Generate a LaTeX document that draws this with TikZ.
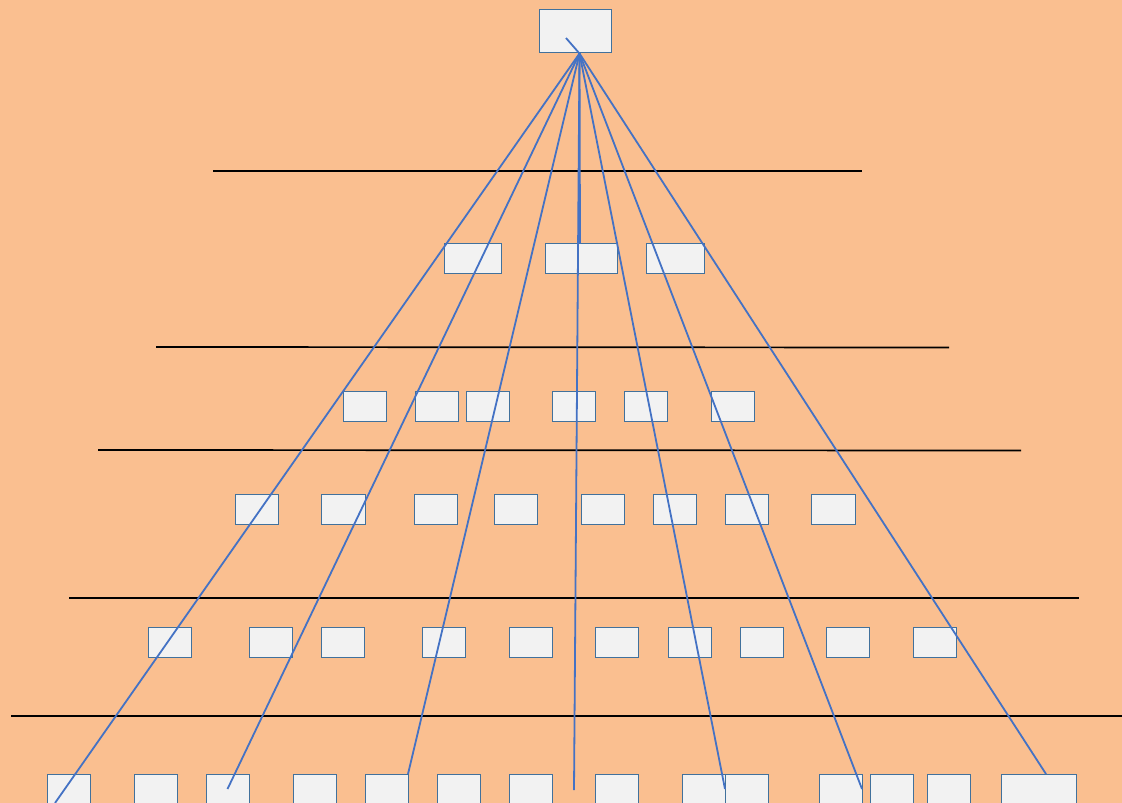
\documentclass[tikz,border=0pt]{standalone}
\definecolor{bg}{RGB}{250,191,144}
\definecolor{boxfill}{RGB}{242,242,242}
\definecolor{boxline}{RGB}{65,113,156}
\definecolor{connblue}{RGB}{68,114,196}
\begin{document}
\begin{tikzpicture}[x=1pt,y=-1pt,
  box/.style={draw=boxline, fill=boxfill, line width=1pt, inner sep=0pt, outer sep=0pt, minimum height=30pt},
  conn/.style={draw=connblue, line width=1.8pt},
  rule/.style={draw=black, line width=1.7pt}]
\fill[bg] (0,0) rectangle (1122,803);
\useasboundingbox (0,0) rectangle (1122,803);
\begin{scope}
\clip (0,0) rectangle (1122,803);
% top box
\node[box, minimum width=72pt, minimum height=43pt] (top) at (575,30.5) {};
% row 1
\foreach \n/\a/\b in {a/444/501, b/545/617, c/646/704}{
  \pgfmathsetmacro\w{\b-\a}
  \node[box, minimum width=\w pt] (r1\n) at ({(\a+\b)/2},258.5) {};
}
% row 2
\foreach \n/\a/\b in {a/343/386, b/415/458, c/466/509, d/552/595, e/624/667, f/711/754}{
  \pgfmathsetmacro\w{\b-\a}
  \node[box, minimum width=\w pt] (r2\n) at ({(\a+\b)/2},406) {};
}
% row 3
\foreach \n/\a/\b in {a/235/278, b/321/365, c/414/457, d/494/537, e/581/624, f/653/696, g/725/768, h/811/855}{
  \pgfmathsetmacro\w{\b-\a}
  \node[box, minimum width=\w pt] (r3\n) at ({(\a+\b)/2},509) {};
}
% row 4
\foreach \n/\a/\b in {a/148/191, b/249/292, c/321/364, d/422/465, e/509/552, f/595/638, g/668/711, h/740/783, i/826/869, j/913/956}{
  \pgfmathsetmacro\w{\b-\a}
  \node[box, minimum width=\w pt] (r4\n) at ({(\a+\b)/2},642) {};
}
% row 5
\foreach \n/\a/\b in {a/47/90, b/134/177, c/206/249, d/293/336, e/365/408, f/437/480, g/509/552, h/595/638, i/682/725, j/725/768, k/819/862, l/870/913, m/927/970, n/1001/1076}{
  \pgfmathsetmacro\w{\b-\a}
  \node[box, minimum width=\w pt] (r5\n) at ({(\a+\b)/2},789) {};
}
% horizontal rules
\coordinate (h1l) at (213,171); \coordinate (h1r) at (862,171);
\coordinate (h2l) at (156,347); \coordinate (h2r) at (949,347.5);
\coordinate (h3l) at (98,450);  \coordinate (h3r) at (1021,450.5);
\coordinate (h4l) at (69,598);  \coordinate (h4r) at (1079,598);
\coordinate (h5l) at (11,716);  \coordinate (h5r) at (1122,716);
\draw[rule] (h1l) -- (h1r);
\draw[rule] (h2l) -- (h2r);
\draw[rule] (h3l) -- (h3r);
\draw[rule] (h4l) -- (h4r);
\draw[rule] (h5l) -- (h5r);
% connectors
\coordinate (hub) at (579.5,53.5);
\coordinate (tick) at (566,38);
\coordinate (e1) at (55,803);
\coordinate (e4) at (574,790);
\draw[conn] (tick) -- (hub);
\draw[conn] (hub) -- (e1);
\draw[conn] (hub) -- (r5c.center);
\draw[conn] (hub) -- (r5e.north east);
\draw[conn] (hub) -- (e4);
\draw[conn] (hub) -- ([xshift=-1pt]r1b.north);
\draw[conn] (hub) -- (r5i.east);
\draw[conn] (hub) -- (r5k.east);
\draw[conn] (hub) -- ([xshift=7.5pt]r5n.north);
\end{scope}
\end{tikzpicture}
\end{document}
